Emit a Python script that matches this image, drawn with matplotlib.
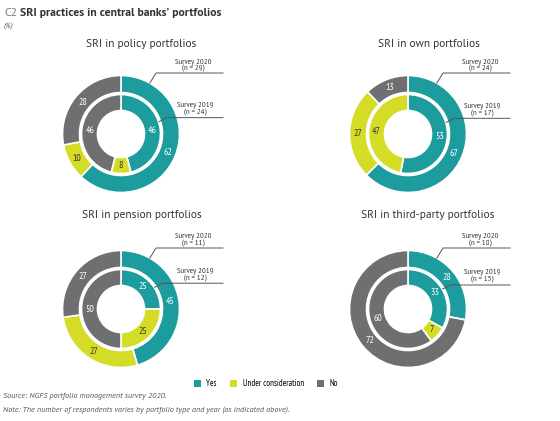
import numpy as np
import matplotlib.pyplot as plt
from matplotlib.patches import Patch

# Data
categories = ["Yes", "Under consideration", "No"]
panel_titles = [
    "SRI in policy portfolios",
    "SRI in own portfolios",
    "SRI in pension portfolios",
    "SRI in third-party portfolios",
]
survey_2020 = [[62, 10, 28], [67, 27, 13], [45, 27, 27], [28, 0, 72]]
survey_2019 = [[46, 8, 46], [53, 47, 0], [25, 25, 50], [33, 7, 60]]
n_2020 = [29, 24, 11, 18]
n_2019 = [24, 17, 12, 15]

colors = ["#1c9c9d", "#d5dc26", "#6e6f71"]
text_colors = ["white", "#333333", "white"]

# layout in pixels (y measured from top)
W, H = 560, 421
centers = [(121, 134), (408, 134), (121, 309), (408, 309)]
title_pos = [(141, 44), (429, 44), (142, 215), (428, 215)]
r_out, w_out = 58.5, 17
r_in, w_in = 39.5, 16
callout_2019_angle = [72, 73, 57, 60]

FONT = "PT Sans"
NARROW = "PT Sans Narrow"

fig = plt.figure(figsize=(W / 100, H / 100), dpi=100)
ax = fig.add_axes([0, 0, 1, 1])


def label_ring(wedges, values, r_mid):
    for w, v, tc in zip(wedges, values, text_colors):
        if v == 0:
            continue
        ang = np.deg2rad((w.theta1 + w.theta2) / 2)
        cx, cy = w.center
        ax.text(cx + r_mid * np.cos(ang), cy + r_mid * np.sin(ang), str(v),
                ha="center", va="center", fontsize=7, color=tc, family=NARROW)


for i in range(4):
    cx, cy = centers[i][0], H - centers[i][1]
    wo, _ = ax.pie(survey_2020[i], colors=colors, startangle=90, counterclock=False,
                   radius=r_out, center=(cx, cy),
                   wedgeprops=dict(width=w_out, edgecolor="white", linewidth=1.2))
    wi, _ = ax.pie(survey_2019[i], colors=colors, startangle=90, counterclock=False,
                   radius=r_in, center=(cx, cy),
                   wedgeprops=dict(width=w_in, edgecolor="white", linewidth=1.2))
    label_ring(wo, survey_2020[i], r_out - w_out / 2)
    label_ring(wi, survey_2019[i], r_in - w_in / 2)

    tx, ty = title_pos[i]
    ax.text(tx, H - ty, panel_titles[i], ha="center", va="center", fontsize=8.2,
            color="#333333", family=FONT)

    # callout 2020
    a = np.deg2rad(90 - 29.5)
    x0, y0 = cx + r_out * np.cos(a), cy + r_out * np.sin(a)
    ex, ey = cx + 35, cy + 61
    ax.plot([x0, ex, cx + 102], [y0, ey, ey], color="#555555", lw=0.7)
    ax.text(cx + 72, ey + 11, "Survey 2020", ha="center", va="center", fontsize=6,
            color="#333333", family=NARROW)
    ax.text(cx + 72, ey + 4.5, f"(n = {n_2020[i]})", ha="center", va="center",
            fontsize=6, color="#333333", family=NARROW)

    # callout 2019
    a = np.deg2rad(90 - callout_2019_angle[i])
    x0, y0 = cx + 40 * np.cos(a), cy + 40 * np.sin(a)
    ex, ey = x0 + 8, y0 + 4
    ax.plot([x0, ex, cx + 102], [y0, ey, ey], color="#555555", lw=0.7)
    ax.text(cx + 74, ey + 12, "Survey 2019", ha="center", va="center", fontsize=6,
            color="#333333", family=NARROW)
    ax.text(cx + 74, ey + 5, f"(n = {n_2019[i]})", ha="center", va="center",
            fontsize=6, color="#333333", family=NARROW)

ax.set_xlim(0, W)
ax.set_ylim(0, H)
ax.set_aspect("equal")
ax.axis("off")

# header
fig.text(4 / W, 1 - 13 / H, "C2", fontsize=8.5, color="#777777", va="center",
         family=FONT)
fig.text(20 / W, 1 - 13 / H, "SRI practices in central banks\u2019 portfolios", fontsize=8.5,
         weight="bold", color="#333333", va="center", family=FONT)
fig.text(4 / W, 1 - 27 / H, "(%)", fontsize=5.5, style="italic", color="#555555",
         va="center", family=FONT)

# legend
handles = [Patch(facecolor=c, edgecolor="none") for c in colors]
fig.legend(handles, categories, loc="center", bbox_to_anchor=(266 / W, 1 - 384 / H),
           ncol=3, frameon=False, handlelength=0.85, handleheight=0.85,
           columnspacing=1.5, handletextpad=0.6,
           prop={"family": NARROW, "size": 6.3})

fig.text(3 / W, 1 - 397 / H, "Source: NGFS portfolio management survey 2020.",
         fontsize=5.9, style="italic", color="#555555", va="center", family=FONT)
fig.text(3 / W, 1 - 410 / H,
         "Note: The number of respondents varies by portfolio type and year (as indicated above).",
         fontsize=5.9, style="italic", color="#555555", va="center", family=FONT)

fig.savefig("out.png", dpi=100)
